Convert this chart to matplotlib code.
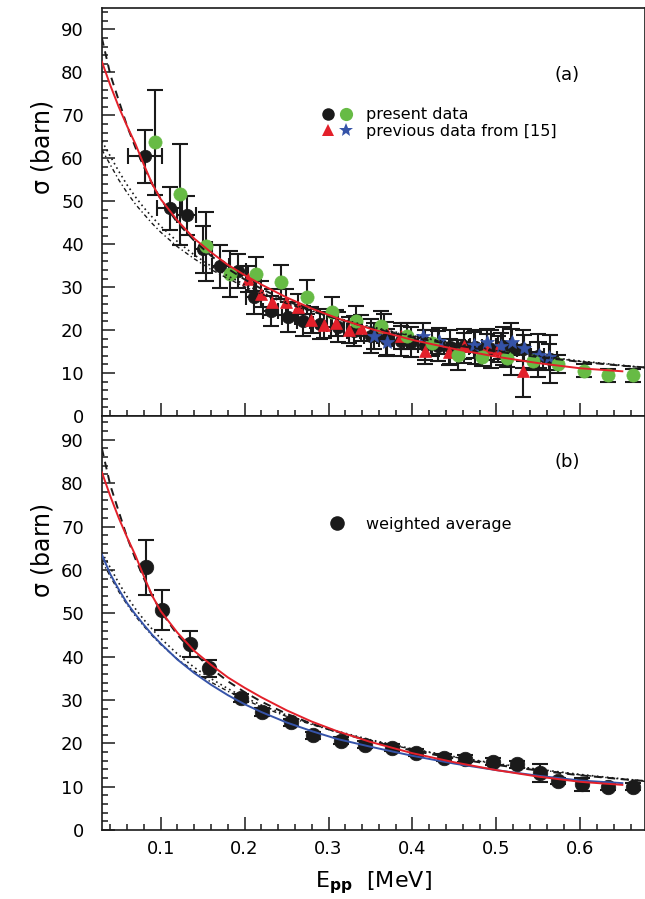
import matplotlib
matplotlib.use('Agg')
import matplotlib.pyplot as plt
import numpy as np
from matplotlib.ticker import MultipleLocator
from matplotlib.lines import Line2D
from matplotlib.legend_handler import HandlerTuple

plt.rcParams['font.family'] = ['DejaVu Sans']
plt.rcParams['mathtext.default'] = 'regular'

# --- panel (a): present data, black points (E, sigma, dsigma, dE)
blk_e = [0.081, 0.111, 0.131, 0.151, 0.171, 0.192, 0.211, 0.231, 0.252, 0.270,
         0.290, 0.311, 0.330, 0.350, 0.368, 0.386, 0.398, 0.415, 0.430, 0.445,
         0.461, 0.475, 0.493, 0.508, 0.517, 0.532, 0.549, 0.564]
blk_s = [60.5, 48.4, 46.7, 38.8, 34.9, 33.7, 27.7, 24.4, 23.0, 22.1,
         21.4, 20.7, 19.8, 18.6, 17.9, 17.4, 17.2, 16.5, 16.3, 16.0,
         16.3, 16.0, 15.6, 16.3, 15.6, 15.6, 14.0, 13.3]
blk_ds = [6.2, 5.0, 4.6, 5.5, 5.0, 4.0, 4.0, 3.5, 3.5, 3.5,
          3.5, 3.5, 3.5, 4.0, 4.0, 3.5, 3.5, 3.5, 3.5, 4.0,
          4.0, 4.0, 4.5, 4.5, 6.0, 4.5, 5.0, 5.6]
blk_de = [0.020, 0.015, 0.011, 0.010, 0.010, 0.010, 0.009, 0.009, 0.008, 0.008,
          0.008, 0.008, 0.008, 0.008, 0.008, 0.008, 0.008, 0.008, 0.008, 0.008,
          0.008, 0.008, 0.008, 0.008, 0.008, 0.008, 0.008, 0.008]

# present data, green points
grn_e = [0.093, 0.123, 0.154, 0.183, 0.213, 0.243, 0.274, 0.304, 0.333, 0.363,
         0.394, 0.423, 0.454, 0.483, 0.513, 0.543, 0.573, 0.604, 0.633, 0.663]
grn_s = [63.7, 51.6, 39.5, 33.0, 33.0, 31.2, 27.7, 24.2, 22.1, 20.9,
         18.6, 17.0, 14.2, 13.7, 13.5, 12.8, 12.1, 10.5, 9.5, 9.5]
grn_ds = [12.3, 11.7, 8.0, 5.3, 4.0, 4.0, 4.0, 3.5, 3.5, 3.5,
          3.0, 3.0, 3.5, 2.0, 2.0, 2.0, 2.0, 1.5, 1.5, 1.5]

# previous data [15], red triangles
tri_e = [0.204, 0.219, 0.233, 0.249, 0.264, 0.279, 0.294, 0.309, 0.324, 0.339,
         0.366, 0.386, 0.415, 0.443, 0.461, 0.489, 0.502, 0.532]
tri_s = [31.9, 28.4, 26.5, 26.5, 25.3, 22.3, 21.2, 21.6, 20.0, 20.5,
         20.7, 18.6, 15.1, 14.9, 16.3, 16.0, 15.6, 10.5]
tri_ds = [3, 3, 3, 3, 3, 3, 3, 3, 3, 3, 3, 3, 3, 3, 3, 3, 3, 6]

# previous data [15], blue stars
star_e = [0.354, 0.370, 0.413, 0.431, 0.473, 0.489, 0.505, 0.519, 0.533, 0.551, 0.563]
star_s = [18.6, 17.2, 18.6, 17.4, 16.5, 17.2, 16.3, 17.2, 15.8, 14.2, 13.7]
star_ds = [3, 3, 3, 3, 3, 3, 3, 3, 3, 3, 3]

# --- panel (b): weighted average
avg_e = [0.082, 0.102, 0.135, 0.158, 0.196, 0.221, 0.255, 0.282, 0.315, 0.343,
         0.376, 0.404, 0.437, 0.463, 0.496, 0.524, 0.552, 0.573, 0.602, 0.633, 0.663]
avg_s = [60.6, 50.7, 42.8, 37.3, 30.5, 27.3, 24.8, 21.8, 20.6, 19.7,
         19.0, 17.8, 16.7, 16.4, 15.7, 15.2, 13.2, 11.3, 10.6, 10.0, 10.0]
avg_ds = [6.3, 4.6, 3.0, 2.0, 0.9, 0.9, 0.8, 0.8, 0.8, 0.8,
          0.8, 0.8, 0.8, 0.8, 0.8, 0.8, 2.1, 0.8, 1.5, 0.8, 0.8]

# --- model curves
red_e = [0.03, 0.04, 0.05, 0.06, 0.07, 0.08, 0.09, 0.10, 0.12, 0.14, 0.16, 0.18,
         0.20, 0.22, 0.25, 0.28, 0.31, 0.35, 0.40, 0.45, 0.50, 0.55, 0.60, 0.65]
red_s = [82.5, 77.0, 72.0, 67.5, 63.3, 58.5, 54.0, 50.5, 45.5, 41.3, 38.1, 35.2,
         32.8, 30.6, 27.6, 25.0, 22.8, 20.3, 17.7, 15.6, 13.8, 12.3, 11.1, 10.4]
blue_s = [63.5, 59.0, 55.5, 52.3, 49.7, 47.3, 45.0, 43.0, 39.3, 36.2, 33.5, 31.1,
          29.0, 27.2, 24.8, 22.8, 21.0, 19.2, 17.1, 15.3, 13.8, 12.5, 11.4, 10.8]
blk_curve_e = [0.03, 0.04, 0.05, 0.06, 0.07, 0.08, 0.09, 0.10, 0.12, 0.14, 0.16, 0.18,
               0.20, 0.22, 0.25, 0.28, 0.31, 0.35, 0.40, 0.45, 0.50, 0.55, 0.60, 0.65, 0.677]
dash_s = [88.0, 79.5, 73.5, 67.5, 62.5, 58.0, 54.0, 50.5, 45.0, 40.8, 37.3, 34.3,
          31.8, 29.6, 26.8, 24.5, 22.6, 20.5, 18.3, 16.5, 15.0, 13.7, 12.6, 11.7, 11.3]
dot1_s = [64.0, 60.5, 57.0, 53.8, 51.0, 48.5, 46.3, 44.2, 40.6, 37.5, 34.9, 32.6,
          30.6, 28.8, 26.5, 24.5, 22.8, 20.8, 18.7, 16.9, 15.3, 14.0, 12.8, 11.8, 11.3]
dot2_s = [62.0, 58.5, 55.0, 52.0, 49.3, 47.0, 44.8, 42.8, 39.4, 36.6, 34.1, 32.0,
          30.1, 28.4, 26.2, 24.3, 22.6, 20.6, 18.6, 16.8, 15.2, 13.9, 12.7, 11.7, 11.2]

RED = '#e3202a'
GREEN = '#67bb45'
BLUE = '#3553a8'
BLACK = '#1a1a1a'

fig = plt.figure(figsize=(6.45, 8.99), dpi=100)
ax1 = fig.add_axes([0.158, 0.5373, 0.842, 0.4538])
ax2 = fig.add_axes([0.158, 0.0768, 0.842, 0.4605])


def points(ax, e, s, ds, color, marker, ms, de=None):
    ax.errorbar(e, s, yerr=ds, xerr=de, fmt='none', ecolor=BLACK, elinewidth=1.5,
                capsize=6, capthick=1.5, zorder=2)
    ax.plot(e, s, ls='none', marker=marker, color=color, ms=ms, mec=color,
            mew=0.5, zorder=2.5)


# panel (a)
points(ax1, blk_e, blk_s, blk_ds, BLACK, 'o', 9, de=blk_de)
points(ax1, tri_e, tri_s, tri_ds, RED, '^', 9)
points(ax1, star_e, star_s, star_ds, BLUE, '*', 10)
points(ax1, grn_e, grn_s, grn_ds, GREEN, 'o', 9.5)

ax1.plot(blk_curve_e, dot1_s, color=BLACK, ls=(0, (1, 2)), lw=1.2, zorder=3)
ax1.plot(blk_curve_e, dot2_s, color=BLACK, ls=(0, (3, 2, 1, 2)), lw=1.0, zorder=3)
ax1.plot(blk_curve_e, dash_s, color=BLACK, ls=(0, (4, 3)), lw=1.4, zorder=3)
ax1.plot(red_e, red_s, color=RED, lw=1.4, zorder=4)

h_blk = Line2D([], [], ls='none', marker='o', color=BLACK, ms=9, mew=0)
h_grn = Line2D([], [], ls='none', marker='o', color=GREEN, ms=9.5, mew=0)
h_tri = Line2D([], [], ls='none', marker='^', color=RED, ms=9, mew=0)
h_star = Line2D([], [], ls='none', marker='*', color=BLUE, ms=10, mew=0)
ax1.legend([(h_blk, h_grn), (h_tri, h_star)], ['present data', 'previous data from [15]'],
           handler_map={tuple: HandlerTuple(ndivide=None)}, frameon=False,
           loc='center left', bbox_to_anchor=(0.40, 0.718), borderpad=0,
           borderaxespad=0, handlelength=2.2, handletextpad=0.75,
           labelspacing=0.1, fontsize=11.5)
ax1.text(0.856, 0.836, '(a)', transform=ax1.transAxes, fontsize=13,
         ha='center', va='center')

# panel (b)
points(ax2, avg_e, avg_s, avg_ds, BLACK, 'o', 10.5)
ax2.plot(blk_curve_e, dot1_s, color=BLACK, ls=(0, (1, 2)), lw=1.2, zorder=3)
ax2.plot(blk_curve_e, dot2_s, color=BLACK, ls=(0, (3, 2, 1, 2)), lw=1.0, zorder=3)
ax2.plot(blk_curve_e, dash_s, color=BLACK, ls=(0, (4, 3)), lw=1.4, zorder=3)
ax2.plot(red_e, blue_s, color=BLUE, lw=1.4, zorder=4)
ax2.plot(red_e, red_s, color=RED, lw=1.4, zorder=4)

h_avg = Line2D([], [], ls='none', marker='o', color=BLACK, ms=10.5, mew=0)
ax2.legend([h_avg], ['weighted average'], frameon=False, loc='center left',
           bbox_to_anchor=(0.40, 0.739), borderpad=0, borderaxespad=0,
           handlelength=2.2, handletextpad=0.75, fontsize=11.5)
ax2.text(0.856, 0.889, '(b)', transform=ax2.transAxes, fontsize=13,
         ha='center', va='center')

for ax, top in [(ax1, 95.0), (ax2, 95.5)]:
    ax.set_xlim(0.03, 0.677)
    ax.set_ylim(0, top)
    ax.xaxis.set_major_locator(MultipleLocator(0.1))
    ax.xaxis.set_minor_locator(MultipleLocator(0.02))
    ax.yaxis.set_major_locator(MultipleLocator(10))
    ax.yaxis.set_minor_locator(MultipleLocator(2))
    ax.tick_params(which='both', direction='in', top=False, right=False,
                   width=1.1, color=BLACK, labelsize=13)
    ax.tick_params(which='major', length=9.5)
    ax.tick_params(which='minor', length=4.5)
    ax.tick_params(axis='y', pad=13)
    ax.tick_params(axis='x', pad=7)
    for sp in ax.spines.values():
        sp.set_linewidth(1.2)
        sp.set_color(BLACK)

ax1.tick_params(axis='x', labelbottom=False)
ax1.text(-0.111, 0.657, r'$\sigma$ (barn)', transform=ax1.transAxes, rotation=90,
         fontsize=17, ha='center', va='center')
ax2.text(-0.111, 0.676, r'$\sigma$ (barn)', transform=ax2.transAxes, rotation=90,
         fontsize=17, ha='center', va='center')
ax2.set_xlabel(r'E$_{\mathbf{pp}}$  [MeV]', fontsize=16, labelpad=8)

fig.savefig('out.png', dpi=100)
